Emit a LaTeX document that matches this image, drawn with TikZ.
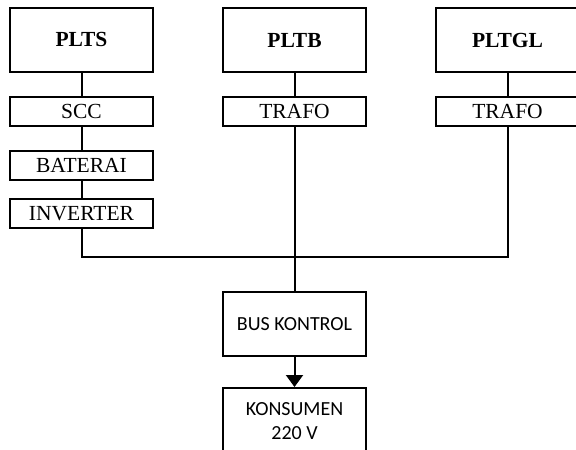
\documentclass[tikz,border=0pt]{standalone}
\usepackage{fontspec}
\setmainfont{Liberation Serif}
\newfontfamily\calib{Carlito}
\usetikzlibrary{arrows.meta}
\begin{document}
\begin{tikzpicture}[x=1pt,y=-1pt,
  box/.style={draw,line width=2pt,minimum width=143pt,inner sep=0pt,align=center,font=\fontsize{21.5}{25}\selectfont},
  big/.style={box,minimum height=64pt,font=\fontsize{21.5}{25}\selectfont\bfseries},
  small/.style={box,minimum height=29pt},
  sans/.style={box,font=\calib\fontsize{20}{24}\selectfont},
  wire/.style={line width=2pt}]
\useasboundingbox (0,0) rectangle (576,450);
\clip (0,0) rectangle (576,450);
\fill[white] (0,0) rectangle (576,450);
\node[big] (plts) at (81.5,39.5) {PLTS};
\node[small] (scc) at (81.5,111.5) {SCC};
\node[small] (bat) at (81.5,165.5) {BATERAI};
\node[small] (inv) at (81.5,213.5) {INVERTER};
\node[big] (pltb) at (294.5,40) {PLTB};
\node[small] (tr1) at (294.5,111.5) {TRAFO};
\node[big] (pltgl) at (507.5,40) {PLTGL};
\node[small] (tr2) at (507.5,111.5) {TRAFO};
\node[sans,minimum height=64pt] (bus) at (294.5,324) {BUS KONTROL};
\node[sans,minimum height=67pt] (kon) at (294.5,421.5) {KONSUMEN\\220 V};
\coordinate (j) at (294.5,256.5);
\draw[wire] (plts) -- (scc);
\draw[wire] (scc) -- (bat);
\draw[wire] (bat) -- (inv);
\draw[wire] (pltb) -- (tr1);
\draw[wire] (pltgl) -- (tr2);
\draw[wire] (inv.south) |- (j) -| (tr2.south);
\draw[wire] (tr1.south) -- (bus.north);
\draw[wire,-{Triangle[width=17pt,length=12pt]}] (bus.south) -- (kon.north);
\end{tikzpicture}
\end{document}
